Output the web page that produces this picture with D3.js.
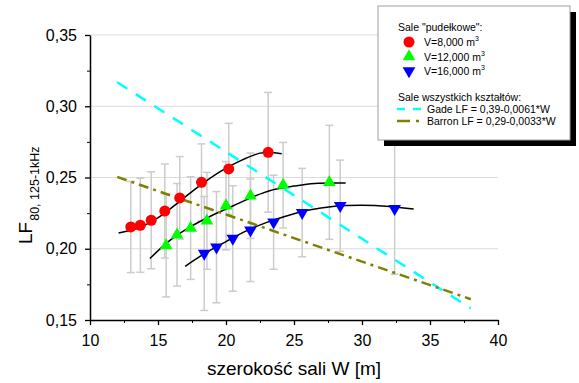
<!DOCTYPE html>
<html>
<head>
<meta charset="utf-8">
<script src="https://cdn.jsdelivr.net/npm/d3@7/dist/d3.min.js"></script>
<style>
  body { margin: 0; background: #fff; }
  svg { font-family: "Liberation Sans", Arial, sans-serif; }
</style>
</head>
<body>
<svg id="chart" width="579" height="383"></svg>
<script>
// measured points (W in m, LF, half error bar)
const redW = [13.0, 13.7, 14.5, 15.5, 16.6, 18.2, 20.2, 23.1];
const redLF = [0.2153, 0.2165, 0.2200, 0.2265, 0.2357, 0.2466, 0.2560, 0.2677];
const redErr = [0.032, 0.033, 0.034, 0.033, 0.029, 0.027, 0.032, 0.042];

const greenW = [15.6, 16.4, 17.4, 18.6, 20.0, 21.8, 24.2, 27.6];
const greenLF = [0.2022, 0.2098, 0.2145, 0.2196, 0.2302, 0.2372, 0.2446, 0.2466];
const greenErr = [0.036, 0.036, 0.036, 0.034, 0.031, 0.030, 0.030, 0.040];

const blueW = [18.4, 19.3, 20.5, 21.8, 23.5, 25.6, 28.4, 32.4];
const blueLF = [0.1967, 0.2011, 0.2072, 0.2130, 0.2186, 0.2254, 0.2302, 0.2281];
const blueErr = [0.040, 0.039, 0.037, 0.036, 0.033, 0.031, 0.032, 0.046];

// fitted curves
const redFitW = [12.1, 13.7, 15.15, 16.6, 18.1, 19.6, 21.0, 22.5, 23.4, 24.1];
const redFitLF = [0.2110, 0.2151, 0.2227, 0.2333, 0.2445, 0.2543, 0.2615, 0.2671, 0.2675, 0.2666];
const greenFitW = [14.4, 15.9, 17.4, 19.0, 20.5, 22.0, 23.5, 25.0, 26.5, 28.8];
const greenFitLF = [0.1931, 0.2060, 0.2155, 0.2235, 0.2300, 0.2365, 0.2415, 0.2440, 0.2458, 0.2461];
const blueFitW = [17.0, 18.3, 20.0, 21.5, 23.0, 24.5, 26.0, 28.0, 30.0, 32.0, 33.8];
const blueFitLF = [0.1877, 0.1959, 0.2050, 0.2125, 0.2185, 0.2232, 0.2270, 0.2298, 0.2305, 0.2297, 0.2279];

// regression lines from the legend: LF = a - b*W
const trendW = [12, 38];
const gadeA = 0.39, gadeB = 0.0061;
const barronA = 0.29, barronB = 0.0033;

const xTicks = [10, 15, 20, 25, 30, 35, 40];
const yTicks = [0.15, 0.20, 0.25, 0.30, 0.35];

const svg = d3.select("#chart");
const x = d3.scaleLinear().domain([10, 40]).range([90, 498]);
const y = d3.scaleLinear().domain([0.15, 0.35]).range([320, 35]);
const comma = v => d3.format(".2f")(v).replace(".", ",");

// horizontal grid
svg.append("g")
  .selectAll("line")
  .data(yTicks.slice(1))
  .enter()
  .append("line")
  .attr("x1", x(10)).attr("x2", x(40))
  .attr("y1", d => y(d)).attr("y2", d => y(d))
  .attr("stroke", "#dcdcdc")
  .attr("stroke-width", 1);

// axes
const minorX = d3.range(12.5, 40, 5);
const minorY = d3.range(0.175, 0.35, 0.05);

svg.append("g")
  .attr("transform", `translate(0,${y(0.15)})`)
  .call(d3.axisBottom(x).tickValues(minorX).tickSize(3).tickFormat(""))
  .call(g => g.select(".domain").remove());
svg.append("g")
  .attr("transform", `translate(${x(10)},0)`)
  .call(d3.axisLeft(y).tickValues(minorY).tickSize(3).tickFormat(""))
  .call(g => g.select(".domain").remove());

const xAxis = svg.append("g")
  .attr("transform", `translate(0,${y(0.15)})`)
  .call(d3.axisBottom(x).tickValues(xTicks).tickSize(5).tickSizeOuter(0).tickPadding(10).tickFormat(d3.format("d")));
const yAxis = svg.append("g")
  .attr("transform", `translate(${x(10)},0)`)
  .call(d3.axisLeft(y).tickValues(yTicks).tickSize(5).tickSizeOuter(0).tickPadding(8).tickFormat(comma));

[xAxis, yAxis].forEach(g => {
  g.selectAll("text").attr("font-size", 16).attr("font-family", "Liberation Sans, Arial, sans-serif").attr("fill", "#000");
  g.selectAll("line").attr("stroke-width", 1.3);
  g.select(".domain").attr("stroke-width", 1.5);
});
svg.selectAll(".tick line").attr("stroke", "#000");

// error bars
const series = [
  { w: redW, lf: redLF, err: redErr, fitW: redFitW, fitLF: redFitLF, color: "#ff0000", shape: "circle" },
  { w: greenW, lf: greenLF, err: greenErr, fitW: greenFitW, fitLF: greenFitLF, color: "#00ff00", shape: "up" },
  { w: blueW, lf: blueLF, err: blueErr, fitW: blueFitW, fitLF: blueFitLF, color: "#0000ff", shape: "down" }
];

const bars = svg.append("g").attr("stroke", "#cccccc").attr("stroke-width", 1.5);
series.forEach(s => {
  s.w.forEach((w, i) => {
    const lo = s.lf[i] - s.err[i], hi = s.lf[i] + s.err[i];
    bars.append("line").attr("x1", x(w)).attr("x2", x(w)).attr("y1", y(lo)).attr("y2", y(hi));
    bars.append("line").attr("x1", x(w) - 4).attr("x2", x(w) + 4).attr("y1", y(lo)).attr("y2", y(lo));
    bars.append("line").attr("x1", x(w) - 4).attr("x2", x(w) + 4).attr("y1", y(hi)).attr("y2", y(hi));
  });
});

// fitted curves
const fitLine = d3.line()
  .x(d => x(d[0]))
  .y(d => y(d[1]))
  .curve(d3.curveCatmullRom);

series.forEach(s => {
  svg.append("path")
    .datum(s.fitW.map((w, i) => [w, s.fitLF[i]]))
    .attr("d", fitLine)
    .attr("fill", "none")
    .attr("stroke", "#000")
    .attr("stroke-width", 1.5);
});

// Gade and Barron lines
const straight = d3.line().x(d => x(d[0])).y(d => y(d[1]));
svg.append("path")
  .datum(trendW.map(w => [w, gadeA - gadeB * w]))
  .attr("d", straight)
  .attr("fill", "none")
  .attr("stroke", "#00ffff")
  .attr("stroke-width", 2.5)
  .attr("stroke-dasharray", "12,10");
svg.append("path")
  .datum(trendW.map(w => [w, barronA - barronB * w]))
  .attr("d", straight)
  .attr("fill", "none")
  .attr("stroke", "#808000")
  .attr("stroke-width", 2.5)
  .attr("stroke-dasharray", "10,5,3,5");

// markers
const tri = d3.symbol().type(d3.symbolTriangle).size(70);
const drawMarker = (g, shape, color, cx, cy) => {
  if (shape === "circle") {
    g.append("circle").attr("cx", cx).attr("cy", cy).attr("r", 5.5).attr("fill", color);
  } else {
    g.append("path")
      .attr("d", tri())
      .attr("transform", `translate(${cx},${cy})` + (shape === "down" ? " rotate(180)" : ""))
      .attr("fill", color);
  }
};

const marks = svg.append("g");
series.forEach(s => {
  s.w.forEach((w, i) => drawMarker(marks, s.shape, s.color, x(w), y(s.lf[i])));
});

// axis titles
svg.append("text")
  .attr("x", 294).attr("y", 375)
  .attr("text-anchor", "middle")
  .attr("font-size", 19)
  .text("szerokość sali W [m]");

const yTitle = svg.append("text")
  .attr("transform", "translate(32,244) rotate(-90)")
  .attr("font-size", 19);
yTitle.append("tspan").text("LF");
yTitle.append("tspan").attr("font-size", 12.5).attr("dy", 7).attr("dx", 1).text("80, 125-1kHz");

// legend
const legend = svg.append("g");
legend.append("rect").attr("x", 384).attr("y", 12).attr("width", 192).attr("height", 134).attr("fill", "#000");
legend.append("rect").attr("x", 378).attr("y", 6).attr("width", 192).attr("height", 134)
  .attr("fill", "#fff").attr("stroke", "#a0a0a0").attr("stroke-width", 1);

const lg = legend.append("g").attr("font-size", 10.5).attr("fill", "#000");
lg.append("text").attr("x", 398).attr("y", 31).text("Sale \"pudełkowe\":");

const volumes = ["8,000", "12,000", "16,000"];
const rowY = [42, 56.5, 71];
series.forEach((s, i) => {
  drawMarker(lg, s.shape, s.color, 409, rowY[i]);
  const t = lg.append("text").attr("x", 424).attr("y", rowY[i] + 4).text(`V=${volumes[i]} m`);
  t.append("tspan").attr("font-size", 7).attr("dy", -5).text("3");
});

lg.append("text").attr("x", 398).attr("y", 101).text("Sale wszystkich kształtów:");
lg.append("line").attr("x1", 397).attr("x2", 422).attr("y1", 109).attr("y2", 109)
  .attr("stroke", "#00ffff").attr("stroke-width", 2.5).attr("stroke-dasharray", "8,8");
lg.append("text").attr("x", 427).attr("y", 113).text(`Gade LF = ${String(gadeA).replace(".", ",")}-${String(gadeB).replace(".", ",")}*W`);
lg.append("line").attr("x1", 397).attr("x2", 421).attr("y1", 121).attr("y2", 121)
  .attr("stroke", "#808000").attr("stroke-width", 2.5).attr("stroke-dasharray", "13,6,3");
lg.append("text").attr("x", 427).attr("y", 125).text(`Barron LF = ${String(barronA).replace(".", ",")}-${String(barronB).replace(".", ",")}*W`);
</script>
</body>
</html>
